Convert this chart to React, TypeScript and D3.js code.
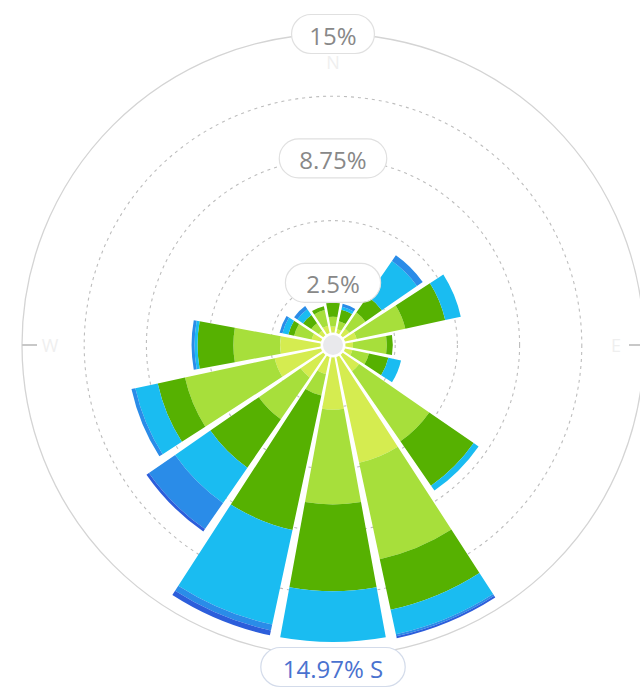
import React from "react";
import * as d3 from "d3";

const directions = ["N","NNE","NE","ENE","E","ESE","SE","SSE","S","SSW","SW","WSW","W","WNW","NW","NNW"];
const seriesNames = ["s1","s2","s3","s4","s5","s6"];
const seriesColors = ["#d5ec50","#a7df3b","#56b101","#1abcf1","#2a8ce8","#2c5edb"];
const s1 = [0.3,0.2,0.4,0.6,0.38,0.38,1.0,5.43,2.63,0.88,1.38,2.38,2.03,0.48,0.28,0.38];
const s2 = [0.5,0.4,0.98,2.5,1.7,0.85,4.28,4.96,4.76,1.1,2.55,4.61,2.35,0.9,0.45,0.8];
const s3 = [0.7,0.6,1.0,2.05,0.3,1.0,2.71,2.6,4.35,6.91,2.96,1.4,1.8,0.3,0.5,0.2];
const s4 = [0,0.15,2.15,0.8,0,0.65,0.3,1.26,2.56,4.86,2.15,1.15,0.15,0.3,0.35,0];
const s5 = [0,0.15,0.35,0,0,0,0,0.1,0,0.3,1.6,0.2,0.15,0.15,0.2,0];
const s6 = [0,0,0,0,0,0,0,0.1,0,0.25,0.15,0,0,0,0,0];
const ringTicks = [2.5, 5.625, 8.75, 11.875, 15];
const labelTicks = ["2.5%", "8.75%", "15%"];
const labelTickValues = [2.5, 8.75, 15];
const cardinal = ["N", "E", "W"];
const highlightLabel = "14.97% S";

export default function App() {
  const W = 640, H = 688;
  const cx = 333, cy = 345;
  const r = d3.scaleLinear().domain([-0.625, 15]).range([0, 311]);
  const ang = d3.scaleLinear().domain([0, directions.length]).range([0, 2 * Math.PI]);
  const rows = directions.map((d, i) => ({
    dir: d, s1: s1[i], s2: s2[i], s3: s3[i], s4: s4[i], s5: s5[i], s6: s6[i],
  }));
  const stacked = d3.stack<any>().keys(seriesNames)(rows);
  const half = Math.PI / directions.length;
  const apad = 0.015;
  const arc = d3.arc<any>()
    .innerRadius((d: any) => r(d[0]))
    .outerRadius((d: any) => r(d[1]))
    .startAngle((d: any) => ang(d.i) - half + apad)
    .endAngle((d: any) => ang(d.i) + half - apad)
    .padAngle(0.02)
    .padRadius(80);

  const font = "'Open Sans', 'DejaVu Sans', sans-serif";
  const pill = (text: string, x: number, y: number, color: string, border: string, key: string, fs = 24) => {
    const w = text.length * 12.3 + 46;
    const h = 39;
    return (
      <g key={key}>
        <rect x={x - w / 2} y={y - h / 2} width={w} height={h} rx={h / 2} ry={h / 2}
          fill="#ffffff" stroke={border} strokeWidth={1.2} />
        <text x={x} y={y + 1} textAnchor="middle" dominantBaseline="central" fill={color}
          fontSize={fs} fontFamily={font}>{text}</text>
      </g>
    );
  };

  const cardPos: Record<string, number> = { N: 0, E: 4, W: 12 };

  return (
    <svg width={W} height={H} style={{ position: "absolute", left: 0, top: 0, background: "#fff" }}>
      <g transform={`translate(${cx},${cy})`}>
        {ringTicks.map((t, i) => (
          <circle key={"ring" + i} r={r(t)} fill="none"
            stroke={t === 15 ? "#d4d4d4" : "#bdbdbd"} strokeWidth={t === 15 ? 1.3 : 1.1}
            strokeDasharray={t === 15 ? undefined : "3,4"} />
        ))}
        {cardinal.map((c) => {
          const a = ang(cardPos[c]);
          const r0 = r(15), r1 = r(15) - 15;
          return (
            <line key={"tick" + c} x1={r0 * Math.sin(a)} y1={-r0 * Math.cos(a)}
              x2={r1 * Math.sin(a)} y2={-r1 * Math.cos(a)} stroke="#c8c8c8" strokeWidth={2} />
          );
        })}
        {cardinal.map((c) => {
          const a = ang(cardPos[c]);
          const rr = r(15) - 28;
          return (
            <text key={"lab" + c} x={rr * Math.sin(a)} y={-rr * Math.cos(a)} textAnchor="middle"
              dominantBaseline="central" fill="#efefef" fontSize={18} fontFamily={font}>{c}</text>
          );
        })}
        {stacked.map((layer, si) => (
          <g key={"layer" + si} fill={seriesColors[si]}>
            {layer.map((d: any, i: number) => {
              if (d[1] - d[0] <= 0) return null;
              const seg: any = [d[0], d[1]];
              seg.i = i;
              return <path key={i} d={arc(seg) || ""} />;
            })}
          </g>
        ))}
        <circle r={10} fill="#e9e9ec" />
        {labelTickValues.map((t, i) => pill(labelTicks[i], 0, -r(t), "#888888", "#e0e0e0", "pl" + i))}
        {pill(highlightLabel, 0, r(15) + 11, "#4a72cf", "#d3dbea", "hl")}
      </g>
    </svg>
  );
}
